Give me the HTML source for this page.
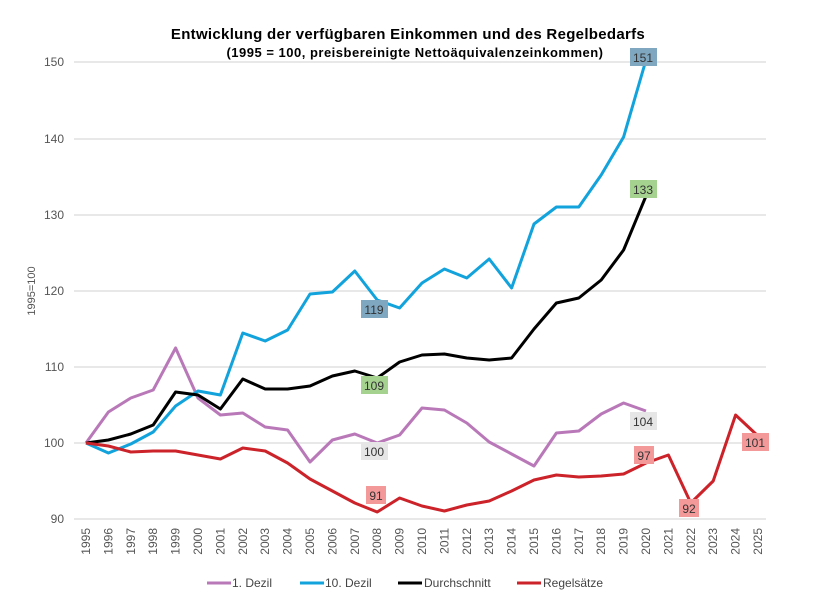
<!DOCTYPE html>
<html><head><meta charset="utf-8"><style>
body{margin:0;background:#fff;}
svg{display:block;font-family:"Liberation Sans",sans-serif;}
</style></head><body>
<svg width="825" height="609" viewBox="0 0 825 609" xmlns="http://www.w3.org/2000/svg">
<rect width="825" height="609" fill="#fff"/>
<text x="408" y="39" text-anchor="middle" font-size="15" font-weight="bold" fill="#000" letter-spacing="0.3">Entwicklung der verfügbaren Einkommen und des Regelbedarfs</text>
<text x="415" y="57" text-anchor="middle" font-size="13" font-weight="bold" fill="#000" letter-spacing="0.5">(1995 = 100, preisbereinigte Nettoäquivalenzeinkommen)</text>
<g stroke="#d9d9d9" stroke-width="1.2">
<line x1="74" x2="766" y1="62" y2="62"/><line x1="74" x2="766" y1="139" y2="139"/><line x1="74" x2="766" y1="215" y2="215"/><line x1="74" x2="766" y1="291" y2="291"/><line x1="74" x2="766" y1="367" y2="367"/><line x1="74" x2="766" y1="443" y2="443"/><line x1="74" x2="766" y1="519" y2="519"/>
</g>
<g font-size="12" fill="#555" text-anchor="end">
<text x="64" y="66">150</text><text x="64" y="143">140</text><text x="64" y="219">130</text><text x="64" y="295">120</text><text x="64" y="371">110</text><text x="64" y="447">100</text><text x="64" y="523">90</text>
</g>
<text transform="translate(35,291) rotate(-90)" text-anchor="middle" font-size="11" fill="#555">1995=100</text>
<g font-size="12" fill="#555" text-anchor="end">
<text transform="translate(90,528) rotate(-90)">1995</text><text transform="translate(112.4,528) rotate(-90)">1996</text><text transform="translate(134.8,528) rotate(-90)">1997</text><text transform="translate(157.2,528) rotate(-90)">1998</text><text transform="translate(179.6,528) rotate(-90)">1999</text><text transform="translate(202,528) rotate(-90)">2000</text><text transform="translate(224.4,528) rotate(-90)">2001</text><text transform="translate(246.8,528) rotate(-90)">2002</text><text transform="translate(269.2,528) rotate(-90)">2003</text><text transform="translate(291.6,528) rotate(-90)">2004</text><text transform="translate(314,528) rotate(-90)">2005</text><text transform="translate(336.4,528) rotate(-90)">2006</text><text transform="translate(358.8,528) rotate(-90)">2007</text><text transform="translate(381.2,528) rotate(-90)">2008</text><text transform="translate(403.6,528) rotate(-90)">2009</text><text transform="translate(426,528) rotate(-90)">2010</text><text transform="translate(448.4,528) rotate(-90)">2011</text><text transform="translate(470.8,528) rotate(-90)">2012</text><text transform="translate(493.2,528) rotate(-90)">2013</text><text transform="translate(515.6,528) rotate(-90)">2014</text><text transform="translate(538,528) rotate(-90)">2015</text><text transform="translate(560.4,528) rotate(-90)">2016</text><text transform="translate(582.8,528) rotate(-90)">2017</text><text transform="translate(605.2,528) rotate(-90)">2018</text><text transform="translate(627.6,528) rotate(-90)">2019</text><text transform="translate(650,528) rotate(-90)">2020</text><text transform="translate(672.4,528) rotate(-90)">2021</text><text transform="translate(694.8,528) rotate(-90)">2022</text><text transform="translate(717.2,528) rotate(-90)">2023</text><text transform="translate(739.6,528) rotate(-90)">2024</text><text transform="translate(762,528) rotate(-90)">2025</text>
</g>
<g fill="none" stroke-width="3" stroke-linejoin="round">
<polyline stroke="#b979b9" points="86,443 108.4,412 130.8,398 153.2,390 175.6,348 198,398 220.4,415 242.8,413 265.2,427 287.6,430 310,462 332.4,440 354.8,434 377.2,443 399.6,435 422,408 444.4,410 466.8,423 489.2,442 511.6,454 534,466 556.4,433 578.8,431 601.2,414 623.6,403 646,411"/>
<polyline stroke="#12a3dc" points="86,443 108.4,453 130.8,444 153.2,432 175.6,406 198,391 220.4,395 242.8,333 265.2,341 287.6,330 310,294 332.4,292 354.8,271 377.2,300 399.6,308 422,283 444.4,269 466.8,278 489.2,259 511.6,288 534,224 556.4,207 578.8,207 601.2,175 623.6,137 646,60"/>
<polyline stroke="#000" points="86,443 108.4,440 130.8,434 153.2,425 175.6,392 198,395 220.4,409 242.8,379 265.2,389 287.6,389 310,386 332.4,376 354.8,371 377.2,378 399.6,362 422,355 444.4,354 466.8,358 489.2,360 511.6,358 534,329 556.4,303 578.8,298 601.2,280 623.6,250 646,196"/>
<polyline stroke="#cc2229" points="86,443 108.4,446 130.8,452 153.2,451 175.6,451 198,455 220.4,459 242.8,448 265.2,451 287.6,463 310,479 332.4,491 354.8,503 377.2,512 399.6,498 422,506 444.4,511 466.8,505 489.2,501 511.6,491 534,480 556.4,475 578.8,477 601.2,476 623.6,474 646,463 668.4,455 690.8,503 713.2,481 735.6,415 758,436"/>
</g>
<g font-size="12" fill="#333" text-anchor="middle">
<rect x="630" y="48" width="27" height="18" fill="#7fa7c0"/><text x="643" y="62">151</text>
<rect x="630" y="180" width="27" height="18" fill="#a5d38f"/><text x="643" y="194">133</text>
<rect x="361" y="300" width="27" height="18" fill="#7fa7c0"/><text x="374" y="314">119</text>
<rect x="361" y="376" width="27" height="18" fill="#a5d38f"/><text x="374" y="390">109</text>
<rect x="361" y="442" width="27" height="18" fill="#e6e6e6"/><text x="374" y="456">100</text>
<rect x="630" y="412" width="27" height="18" fill="#e6e6e6"/><text x="643" y="426">104</text>
<rect x="634" y="446" width="20" height="18" fill="#f4999a"/><text x="644" y="460">97</text>
<rect x="366" y="486" width="20" height="18" fill="#f4999a"/><text x="376" y="500">91</text>
<rect x="679" y="499" width="20" height="18" fill="#f4999a"/><text x="689" y="513">92</text>
<rect x="742" y="433" width="27" height="18" fill="#f4999a"/><text x="755" y="447">101</text>
</g>
<g font-size="12" fill="#444">
<line x1="207" x2="231" y1="583" y2="583" stroke="#b979b9" stroke-width="3"/><text x="232" y="587">1. Dezil</text>
<line x1="300" x2="324" y1="583" y2="583" stroke="#12a3dc" stroke-width="3"/><text x="325" y="587">10. Dezil</text>
<line x1="398" x2="422" y1="583" y2="583" stroke="#000" stroke-width="3"/><text x="424" y="587">Durchschnitt</text>
<line x1="517" x2="541" y1="583" y2="583" stroke="#cc2229" stroke-width="3"/><text x="543" y="587">Regelsätze</text>
</g>
</svg>
</body></html>
